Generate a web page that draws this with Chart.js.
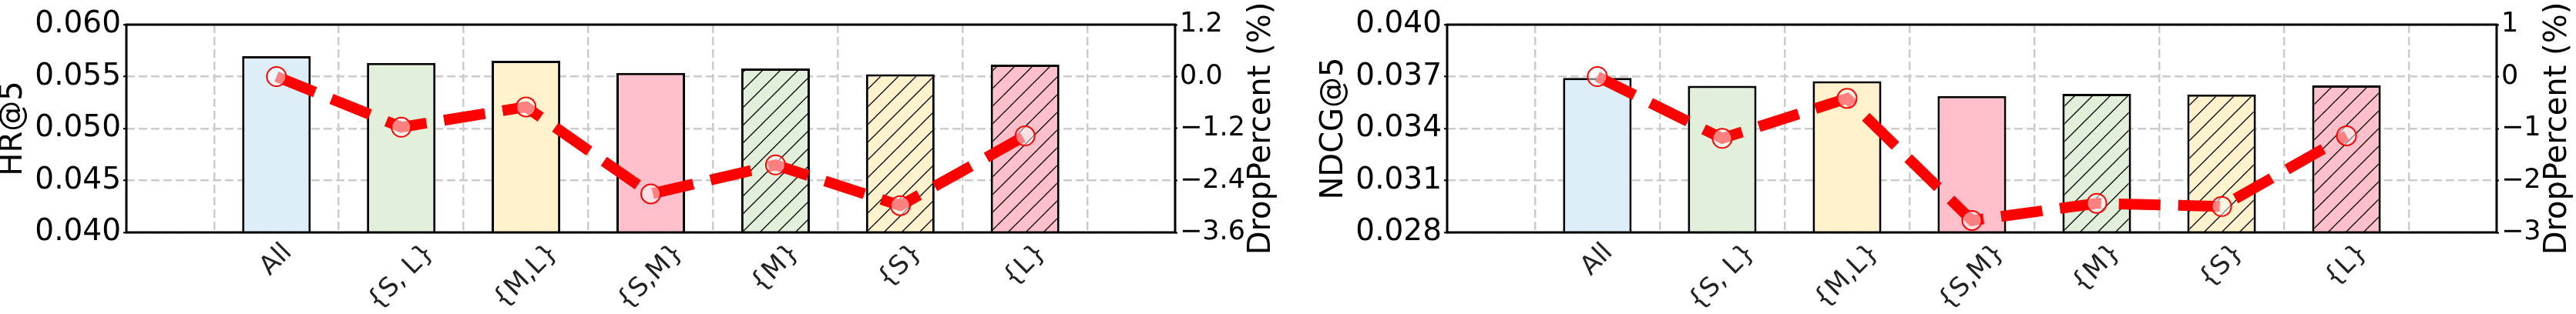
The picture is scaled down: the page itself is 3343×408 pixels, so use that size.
<!DOCTYPE html>
<html>
<head>
<meta charset="utf-8">
<script src="https://cdn.jsdelivr.net/npm/chart.js@4.4.1/dist/chart.umd.min.js"></script>
<style>
  html, body { margin: 0; padding: 0; background: #fff; }
  #wrap { position: relative; width: 3343px; height: 408px; overflow: hidden; }
  canvas { position: absolute; top: 0; }
</style>
</head>
<body>
<div id="wrap">
  <canvas id="hrChart" width="1690" height="408" style="left:0"></canvas>
  <canvas id="ndcgChart" width="1653" height="408" style="left:1690px"></canvas>
</div>
<script>
// categories (x axis)
const categories = ['All', '{S, L}', '{M,L}', '{S,M}', '{M}', '{S}', '{L}']

// HR@5 panel
const hrValues = [0.05696, 0.05632, 0.05652, 0.05536, 0.05578, 0.05523, 0.05615]
const hrDrop = [0.0, -1.17, -0.7, -2.71, -2.04, -2.98, -1.37]
const hrTicks = [0.04, 0.045, 0.05, 0.055, 0.06]
const hrDropTicks = [-3.6, -2.4, -1.2, 0, 1.2]

// NDCG@5 panel
const ndcgValues = [0.03692, 0.03647, 0.03673, 0.03588, 0.036, 0.03597, 0.03649]
const ndcgDrop = [0.0, -1.19, -0.42, -2.77, -2.44, -2.5, -1.14]
const ndcgTicks = [0.028, 0.031, 0.034, 0.037, 0.04]
const ndcgDropTicks = [-3, -2, -1, 0, 1]

const barColors = ['#ddeef8', '#e2efda', '#fff2cc', '#ffc0cb', '#e2efda', '#fff2cc', '#ffc0cb']
const hatched = [false, false, false, false, true, true, true]

const FONT = 'DejaVu Sans'
const LABEL_SIZE = 34
const minus = (s) => s.replace('-', '\u2212')

function hatchPattern(color) {
  const s = 23
  const c = document.createElement('canvas')
  c.width = s
  c.height = s
  const g = c.getContext('2d')
  g.fillStyle = color
  g.fillRect(0, 0, s, s)
  g.strokeStyle = '#000'
  g.lineWidth = 1.3
  g.beginPath()
  g.moveTo(-2, s + 2)
  g.lineTo(s + 2, -2)
  g.moveTo(-2, 2)
  g.lineTo(2, -2)
  g.moveTo(s - 2, s + 2)
  g.lineTo(s + 2, s - 2)
  g.stroke()
  return g.createPattern(c, 'repeat')
}

const fills = barColors.map((c, i) => (hatched[i] ? hatchPattern(c) : c))

// frame, rotated x labels, axis titles
const decor = {
  id: 'decor',
  afterDatasetsDraw(chart) {
    const { ctx, chartArea: a } = chart
    ctx.save()
    ctx.strokeStyle = '#000'
    ctx.lineWidth = 3
    ctx.strokeRect(a.left, a.top, a.right - a.left, a.bottom - a.top)
    ctx.restore()
  },
  afterDraw(chart, args, opts) {
    const { ctx, chartArea: a, scales } = chart
    ctx.save()
    // x tick labels, rotated 45deg, centred under the tick like matplotlib
    ctx.font = `${LABEL_SIZE}px "${FONT}"`
    ctx.fillStyle = '#222222'
    ctx.textAlign = 'center'
    ctx.textBaseline = 'middle'
    const h = LABEL_SIZE * 1.164
    categories.forEach((lab, i) => {
      const x = scales.x.getPixelForValue(i)
      const w = ctx.measureText(lab).width
      const cy = a.bottom + 7 + 0.3536 * (w + h)
      ctx.save()
      ctx.translate(x, cy)
      ctx.rotate(-Math.PI / 4)
      ctx.fillText(lab, 0, 0)
      ctx.restore()
    })

    // axis titles
    ctx.font = `40px "${FONT}"`
    ctx.fillStyle = '#000'
    const midY = (a.top + a.bottom) / 2
    ctx.save()
    ctx.translate(a.left - 146, midY)
    ctx.rotate(-Math.PI / 2)
    ctx.fillText(opts.leftTitle, 0, 0)
    ctx.restore()

    ctx.font = `35px "${FONT}"`
    const tw = Math.max(...opts.rightTicks.map((t) => ctx.measureText(opts.fmtRight(t)).width))
    ctx.font = `40px "${FONT}"`
    ctx.save()
    ctx.translate(a.right + 6 + tw + 22, midY)
    ctx.rotate(-Math.PI / 2)
    ctx.fillText('DropPercent (%)', 0, 0)
    ctx.restore()
    ctx.restore()
  },
}

function makeChart(id, values, drop, leftTicks, rightTicks, fmtLeft, fmtRight, title, leftW, rightW) {
  const ctx = document.getElementById(id).getContext('2d')
  return new Chart(ctx, {
    data: {
      datasets: [
        {
          type: 'line',
          data: drop.map((v, i) => ({ x: i, y: v })),
          yAxisID: 'y1',
          order: 0,
          borderColor: '#ff0000',
          borderWidth: 14,
          borderDash: [54, 23],
          borderCapStyle: 'butt',
          tension: 0,
          pointRadius: 12.5,
          pointBorderWidth: 2,
          pointBorderColor: '#ff0000',
          pointBackgroundColor: 'rgba(255,255,255,0.5)',
        },
        {
          type: 'bar',
          data: values.map((v, i) => ({ x: i, y: v })),
          yAxisID: 'y',
          order: 1,
          backgroundColor: fills,
          borderColor: '#000',
          borderWidth: 3,
          borderSkipped: false,
          barPercentage: 0.55,
          categoryPercentage: 1,
        },
      ],
    },
    options: {
      responsive: false,
      animation: false,
      devicePixelRatio: 1,
      layout: { padding: { top: 32, left: 0, right: 0, bottom: 0 }, autoPadding: false },
      plugins: {
        legend: { display: false },
        tooltip: { enabled: false },
        decor: { leftTitle: title, rightTicks, fmtRight },
      },
      scales: {
        x: {
          type: 'linear',
          min: -0.6025,
          max: 6.6025,
          afterBuildTicks: (s) => {
            s.ticks = categories.map((c, i) => ({ value: i }))
          },
          afterFit: (s) => {
            s.height = 106
          },
          ticks: { display: false },
          grid: { color: '#cccccc', lineWidth: 2.5, drawTicks: false },
          border: { display: false, dash: [11, 5] },
        },
        y: {
          position: 'left',
          min: leftTicks[0],
          max: leftTicks[leftTicks.length - 1],
          afterBuildTicks: (s) => {
            s.ticks = leftTicks.map((v) => ({ value: v }))
          },
          afterFit: (s) => {
            s.width = leftW
          },
          ticks: {
            color: '#000',
            font: { family: FONT, size: 39 },
            padding: 3,
            callback: (v) => fmtLeft(v),
          },
          grid: {
            color: '#cccccc',
            lineWidth: 2.5,
            tickColor: '#000',
            tickWidth: 2,
            tickLength: 4,
            tickBorderDash: [],
          },
          border: { display: false, dash: [11, 5] },
        },
        y1: {
          position: 'right',
          min: rightTicks[0],
          max: rightTicks[rightTicks.length - 1],
          afterBuildTicks: (s) => {
            s.ticks = rightTicks.map((v) => ({ value: v }))
          },
          afterFit: (s) => {
            s.width = rightW
          },
          ticks: {
            color: '#000',
            font: { family: FONT, size: 35 },
            padding: 3,
            callback: (v) => fmtRight(v),
          },
          grid: {
            drawOnChartArea: false,
            tickColor: '#000',
            tickWidth: 2,
            tickLength: 3,
          },
          border: { display: false },
        },
      },
    },
    plugins: [decor],
  })
}

makeChart('hrChart', hrValues, hrDrop, hrTicks, hrDropTicks,
  (v) => v.toFixed(3), (v) => minus(v.toFixed(1)), 'HR@5', 164, 165)

makeChart('ndcgChart', ndcgValues, ndcgDrop, ndcgTicks, ndcgDropTicks,
  (v) => v.toFixed(3), (v) => minus(v.toFixed(0)), 'NDCG@5', 188, 103)
</script>
</body>
</html>
